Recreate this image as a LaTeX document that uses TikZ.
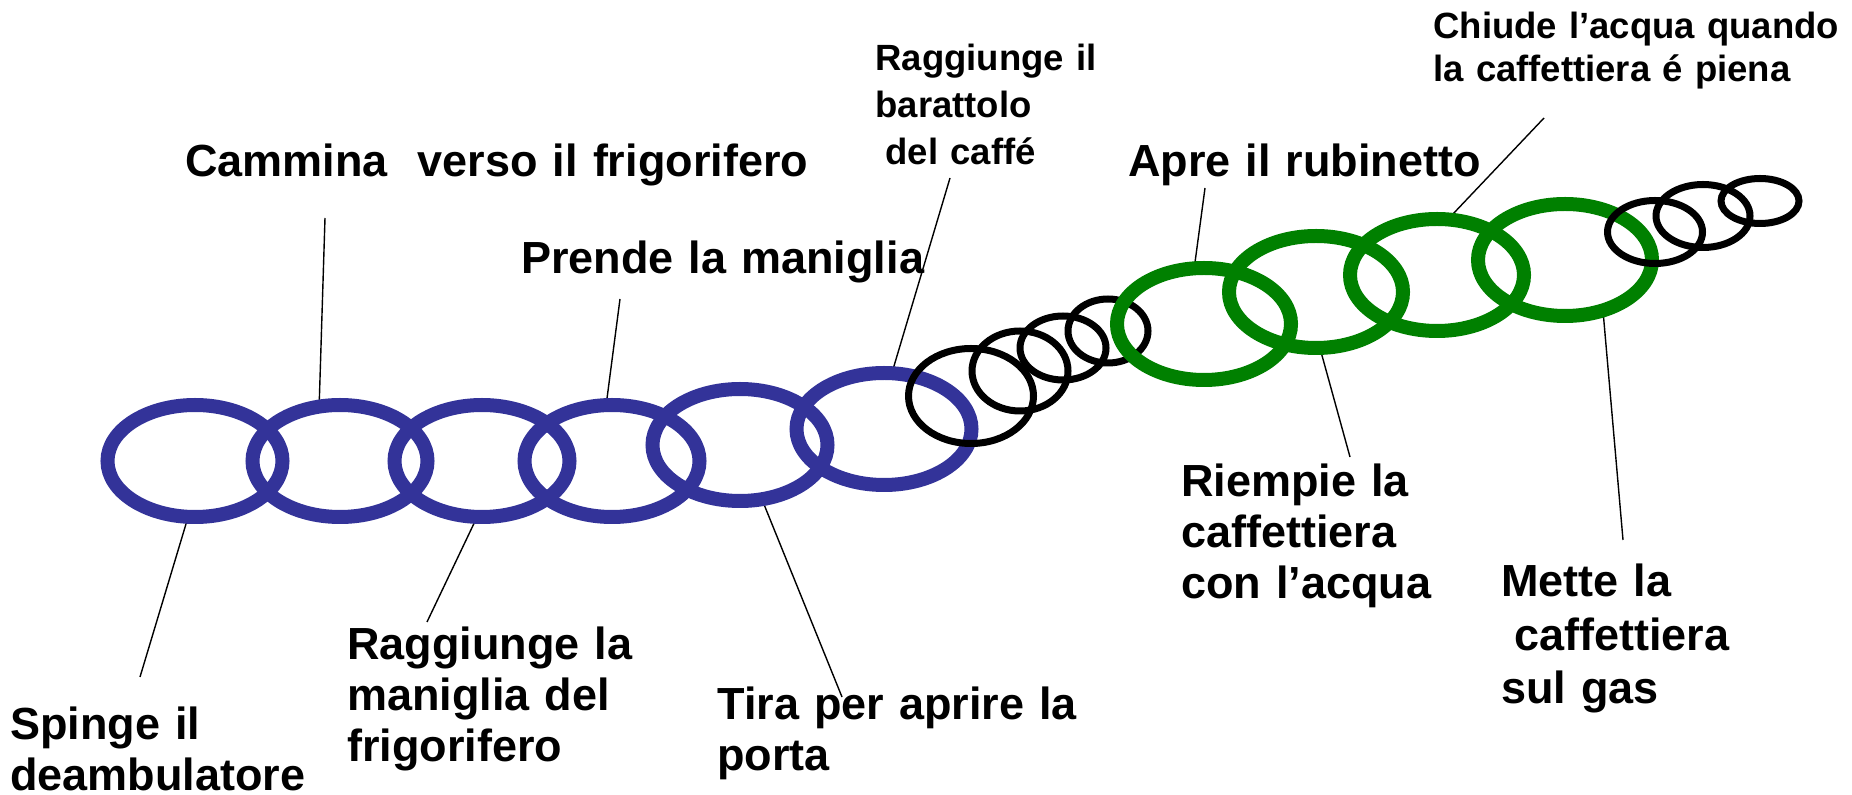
\documentclass[tikz,border=0pt]{standalone}
\usepackage{fontspec}
\setmainfont{Liberation Sans}
\usetikzlibrary{shapes.geometric,backgrounds}
\definecolor{ringblue}{HTML}{333399}
\definecolor{ringgreen}{HTML}{008000}
\begin{document}
\begin{tikzpicture}[x=0.5pt,y=-0.5pt,
  ring/.style 2 args={ellipse, draw, inner sep=0pt, outer sep=0pt, minimum width=#1*0.5pt, minimum height=#2*0.5pt},
  bluering/.style={draw=ringblue, line width=7pt},
  greenring/.style={draw=ringgreen, line width=7pt},
  blackring/.style={draw=black, line width=3.5pt},
  big/.style={inner sep=0pt, anchor=base west, text width=450pt, align=left, font=\bfseries\fontsize{22.5}{25.5}\selectfont},
  small/.style={inner sep=0pt, anchor=base west, text width=300pt, align=left, font=\bfseries\fontsize{18.25}{23.5}\selectfont},
  leader/.style={draw=black, line width=0.7pt}
]
\useasboundingbox (0,0) rectangle (1852,795);

% blue rings
\node[ring={175}{112}, bluering] (b1) at (195,461) {};
\node[ring={175}{112}, bluering] (b2) at (340,461) {};
\node[ring={175}{112}, bluering] (b3) at (482,461) {};
\node[ring={175}{112}, bluering] (b4) at (612,461) {};
\node[ring={175}{112}, bluering] (b5) at (740,445) {};
\node[ring={175}{112}, bluering] (b6) at (884,429) {};
% black rings (middle)
\node[ring={125}{95}, blackring] (ka) at (971,396) {};
\node[ring={96}{80}, blackring] (kb) at (1020,371) {};
\node[ring={86}{64}, blackring] (kc) at (1063,348) {};
\node[ring={80}{64}, blackring] (kd) at (1108,331) {};
% green rings
\node[ring={174}{112}, greenring] (g1) at (1204,324) {};
\node[ring={174}{112}, greenring] (g2) at (1316,292) {};
\node[ring={174}{112}, greenring] (g3) at (1437,275) {};
\node[ring={174}{112}, greenring] (g4) at (1565,260) {};
% black rings (right)
\node[ring={95}{63}, blackring] (r1) at (1655,232) {};
\node[ring={94}{63}, blackring] (r2) at (1703,216) {};
\node[ring={78}{45}, blackring] (r3) at (1760,201) {};

% labels
\node[big] (tcam) at (185,177) {Cammina\ \ verso il frigorifero};
\node[big] (tpre) at (521,274) {Prende la maniglia};
\node[big] (tapr) at (1128,177) {Apre il rubinetto};
\node[small] (tbar) at (875,71) {Raggiunge il\\barattolo\\\hspace*{0.28em}del caffé};
\node[small, font=\bfseries\fontsize{18.25}{21.25}\selectfont] (tchi) at (1433,39) {Chiude l’acqua quando\\la caffettiera é piena};
\node[big] (tspi) at (10,740) {Spinge il\\deambulatore};
\node[big] (trag) at (347,660) {Raggiunge la\\maniglia del\\frigorifero};
\node[big] (ttir) at (717,719) {Tira per aprire la\\porta};
\node[big] (trie) at (1181,497) {Riempie la\\caffettiera\\con l’acqua};
\node[big, font=\bfseries\fontsize{22.5}{26.75}\selectfont] (tmet) at (1501,597) {Mette la\\\hspace*{0.28em}caffettiera\\sul gas};

% leader end points
\coordinate (l1) at (140,677);
\coordinate (l2) at (325,218);
\coordinate (l3) at (427,622);
\coordinate (l4) at (620,299);
\coordinate (l5) at (842,697);
\coordinate (l6) at (950,178);
\coordinate (l7) at (1205,188);
\coordinate (l8) at (1544,118);
\coordinate (l9) at (1350,457);
\coordinate (l10) at (1623,540);

\begin{scope}[on background layer]
\draw[leader] (l1) -- (b1.263);
\draw[leader] (l2) -- (b2.111);
\draw[leader] (l3) -- (b3.265);
\draw[leader] (l4) -- (b4.96);
\draw[leader] (l5) -- (b5.292);
\draw[leader] (l6) -- (b6.82);
\draw[leader] (l7) -- (g1.100);
\draw[leader] (l8) -- (g3.79);
\draw[leader] (l9) -- (g2.274);
\draw[leader] (l10) -- (g4.307);
\end{scope}
\end{tikzpicture}
\end{document}
